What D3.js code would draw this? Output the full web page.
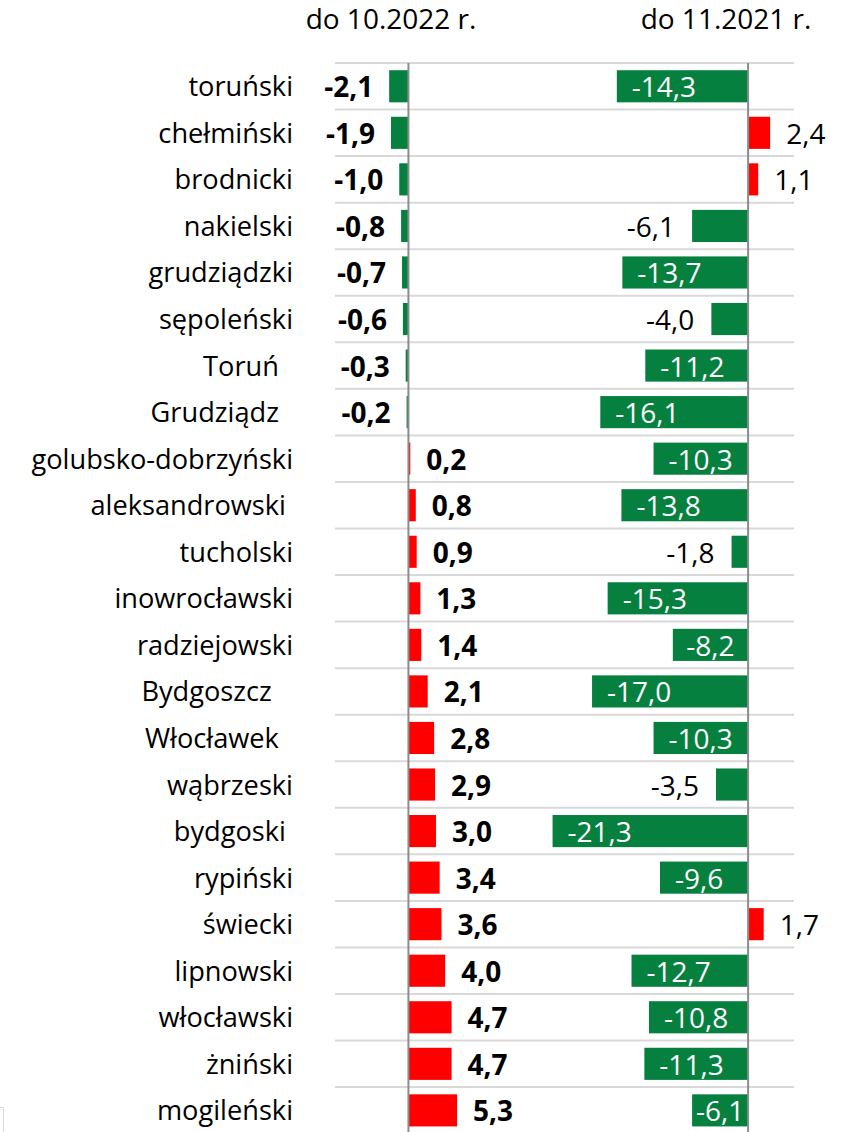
<!DOCTYPE html>
<html><head><meta charset="utf-8">
<script src="https://cdn.jsdelivr.net/npm/d3@7"></script>
<style>
html,body{margin:0;padding:0;background:#fff;}
svg text{font-family:"Open Sans",sans-serif;white-space:pre;}
</style></head>
<body>
<svg id="chart" width="851" height="1132"></svg>
<script>
const categories = ["toruński","chełmiński","brodnicki","nakielski","grudziądzki","sępoleński","Toruń  ","Grudziądz  ","golubsko-dobrzyński","aleksandrowski ","tucholski","inowrocławski","radziejowski","Bydgoszcz   ","Włocławek  ","wąbrzeski","bydgoski ","rypiński","świecki","lipnowski","włocławski","żniński","mogileński"];
const values2022 = [-2.1,-1.9,-1.0,-0.8,-0.7,-0.6,-0.3,-0.2,0.2,0.8,0.9,1.3,1.4,2.1,2.8,2.9,3.0,3.4,3.6,4.0,4.7,4.7,5.3];
const values2021 = [-14.3,2.4,1.1,-6.1,-13.7,-4.0,-11.2,-16.1,-10.3,-13.8,-1.8,-15.3,-8.2,-17.0,-10.3,-3.5,-21.3,-9.6,1.7,-12.7,-10.8,-11.3,-6.1];
const seriesTitles = ["do 10.2022 r.","do 11.2021 r."];
const labelOutside2021 = ["nakielski","sępoleński","tucholski","wąbrzeski"];

(function(){
const GREEN = "#06803f", RED = "#ff0000";
const svg = d3.select("#chart");
const fmt = v => v.toFixed(1).replace(".", ",");
const FS_CAT = 27.2, FS_VAL = 28, FS_TITLE = 28;

const unit = 9.18, x0 = 335;
const xL = d3.scaleLinear().domain([-8, 12]).range([x0, x0 + 20*unit]);
const xR = d3.scaleLinear().domain([-25, 5]).range([x0 + 20*unit, x0 + 50*unit]);
const plotTop = 63, step = 46.55;
const y = d3.scaleBand().domain(d3.range(categories.length)).range([plotTop, plotTop + step*categories.length]).paddingInner(0.31).paddingOuter(0.155);

svg.append("g").selectAll("line").data(d3.range(categories.length + 1)).join("line")
  .attr("x1", xL.range()[0]).attr("x2", xR.range()[1])
  .attr("y1", k => plotTop + k*y.step()).attr("y2", k => plotTop + k*y.step())
  .attr("stroke", "#d9d9d9").attr("stroke-width", 2);

svg.append("text").attr("x", 391).attr("y", 29).attr("text-anchor","middle").attr("font-size", FS_TITLE).attr("fill","#000").text(seriesTitles[0]);
svg.append("text").attr("x", 726).attr("y", 29).attr("text-anchor","middle").attr("font-size", FS_TITLE).attr("fill","#000").text(seriesTitles[1]);

svg.append("g").selectAll("text").data(categories).join("text")
  .attr("x", 293).attr("y", (d,i) => y(i) + y.bandwidth()/2 + 10)
  .attr("text-anchor","end").attr("font-size", FS_CAT).attr("fill","#000").text(d => d);

function bars(x, vals) {
  svg.append("g").selectAll("rect").data(vals).join("rect")
    .attr("x", v => Math.min(x(0), x(v)))
    .attr("width", v => Math.abs(x(v) - x(0)))
    .attr("y", (v,i) => y(i)).attr("height", y.bandwidth())
    .attr("fill", v => v < 0 ? GREEN : RED);
}
bars(xL, values2022);
bars(xR, values2021);

svg.append("g").selectAll("text").data(values2022).join("text")
  .attr("x", v => v < 0 ? xL(v) - 16 : xL(v) + 16)
  .attr("y", (v,i) => y(i) + y.bandwidth()/2 + 11)
  .attr("text-anchor", v => v < 0 ? "end" : "start")
  .attr("font-size", FS_VAL).attr("font-weight","bold").attr("fill","#000")
  .text(fmt);

const rl = svg.append("g").selectAll("text").data(values2021).join("text")
  .attr("y", (v,i) => y(i) + y.bandwidth()/2 + 11)
  .attr("font-size", FS_VAL).text(fmt);
rl.each(function(v, i) {
  const t = d3.select(this);
  const outside = labelOutside2021.includes(categories[i].trim());
  if (v >= 0) {
    t.attr("x", xR(v) + 16).attr("text-anchor","start").attr("fill","#000");
  } else if (outside) {
    t.attr("x", xR(v) - 17).attr("text-anchor","end").attr("fill","#000");
  } else {
    const w = this.getComputedTextLength();
    const bw = xR(0) - xR(v);
    const pad = Math.max(0, Math.min(15, (bw - w)/2));
    t.attr("x", xR(v) + pad).attr("text-anchor","start").attr("fill","#fff");
  }
});

[xL(0), xR(0)].forEach(x => {
  svg.append("line").attr("x1", x).attr("x2", x).attr("y1", plotTop).attr("y2", 1132)
    .attr("stroke", "#8c8c8c").attr("stroke-width", 2);
});

svg.append("path").attr("d", "M0,1107.5 H3.5 V1132").attr("fill","none").attr("stroke","#d9d9d9").attr("stroke-width",1);
})();
</script>
</body></html>
